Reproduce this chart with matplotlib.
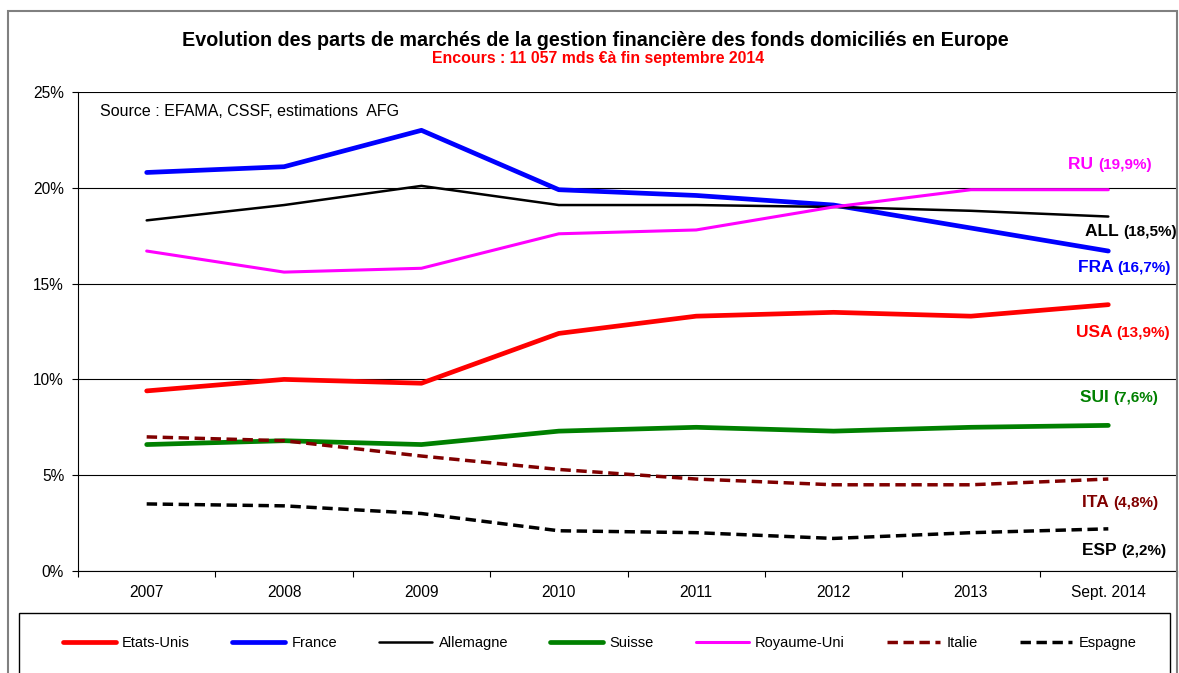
import matplotlib
matplotlib.use('Agg')
import matplotlib.pyplot as plt
from matplotlib.patches import Rectangle
from matplotlib.ticker import FixedLocator, PercentFormatter

plt.rcParams['font.family'] = ['Liberation Sans', 'DejaVu Sans']

# Data (parts de marché, %)
years = ['2007', '2008', '2009', '2010', '2011', '2012', '2013', 'Sept. 2014']
etats_unis = [9.4, 10.0, 9.8, 12.4, 13.3, 13.5, 13.3, 13.9]
france = [20.8, 21.1, 23.0, 19.9, 19.6, 19.1, 17.9, 16.7]
allemagne = [18.3, 19.1, 20.1, 19.1, 19.1, 19.0, 18.8, 18.5]
suisse = [6.6, 6.8, 6.6, 7.3, 7.5, 7.3, 7.5, 7.6]
royaume_uni = [16.7, 15.6, 15.8, 17.6, 17.8, 19.0, 19.9, 19.9]
italie = [7.0, 6.8, 6.0, 5.3, 4.8, 4.5, 4.5, 4.8]
espagne = [3.5, 3.4, 3.0, 2.1, 2.0, 1.7, 2.0, 2.2]

W, H = 1179, 673
fig = plt.figure(figsize=(W / 100, H / 100), dpi=100)
ax = fig.add_axes([78 / W, 1 - 571 / H, (1177 - 78) / W, (571 - 92) / H])

x = [i + 0.5 for i in range(len(years))]
dash = (0, (3, 1.6))
series = [
    ('Etats-Unis', etats_unis, '#FF0000', 3.4, '-'),
    ('France', france, '#0000FF', 3.4, '-'),
    ('Allemagne', allemagne, '#000000', 1.8, '-'),
    ('Suisse', suisse, '#008000', 3.4, '-'),
    ('Royaume-Uni', royaume_uni, '#FF00FF', 2.2, '-'),
    ('Italie', italie, '#800000', 2.5, dash),
    ('Espagne', espagne, '#000000', 2.5, dash),
]
handles = []
for name, vals, col, lw, ls in series:
    h, = ax.plot(x, vals, color=col, lw=lw, ls=ls, label=name,
                 solid_capstyle='round', clip_on=False)
    handles.append(h)

ax.set_xlim(0, len(years))
ax.set_ylim(0, 25)
ax.yaxis.set_major_locator(FixedLocator([0, 5, 10, 15, 20, 25]))
ax.yaxis.set_major_formatter(PercentFormatter(decimals=0))
ax.grid(axis='y', color='black', lw=0.8)
ax.set_axisbelow(True)

ax.set_xticks(range(len(years) + 1))
ax.set_xticklabels([])
ax.set_xticks(x, minor=True)
ax.set_xticklabels(years, minor=True)
ax.tick_params(axis='x', which='major', length=4, width=0.8, direction='out')
ax.tick_params(axis='x', which='minor', length=0, pad=10, labelsize=11.2)
ax.tick_params(axis='y', length=4, width=0.8, pad=6, labelsize=11.2)

for s in ['top', 'right']:
    ax.spines[s].set_visible(False)
for s in ['left', 'bottom']:
    ax.spines[s].set_linewidth(0.8)

# right-hand labels
labels = [
    ('RU', '(19,9%)', '#FF00FF', 7.818, 21.19),
    ('ALL', '(18,5%)', '#000000', 8.0, 17.69),
    ('FRA', '(16,7%)', '#0000FF', 7.956, 15.81),
    ('USA', '(13,9%)', '#FF0000', 7.949, 12.42),
    ('SUI', '(7,6%)', '#008000', 7.862, 9.03),
    ('ITA', '(4,8%)', '#800000', 7.862, 3.55),
    ('ESP', '(2,2%)', '#000000', 7.92, 1.04),
]
for short, val, col, lx, ly in labels:
    t = ax.text(lx, ly, val, color=col, fontsize=11, fontweight='bold',
                ha='right', va='center', clip_on=False)
    ax.annotate(short + ' ', xy=(0, 0), xycoords=t, color=col, fontsize=12.5,
                fontweight='bold', ha='right', va='bottom')

fig.text(0.505, 1 - 40 / H,
         'Evolution des parts de marchés de la gestion financière des fonds domiciliés en Europe',
         ha='center', va='center', fontsize=14.2, fontweight='bold')
fig.text(0.507, 1 - 58 / H, 'Encours : 11 057 mds €à fin septembre 2014',
         ha='center', va='center', fontsize=11.4, fontweight='bold', color='#FF0000')
fig.text(100 / W, 1 - 112 / H, 'Source : EFAMA, CSSF, estimations  AFG',
         ha='left', va='center', fontsize=11.5)

# frames
fig.add_artist(Rectangle((8 / W, -0.05), (1177 - 8) / W, 1 - 11 / H + 0.05,
                         transform=fig.transFigure, fill=False,
                         edgecolor='#808080', lw=1.5))
fig.add_artist(Rectangle((19 / W, -0.05), (1170 - 19) / W, 1 - 613 / H + 0.05,
                         transform=fig.transFigure, fill=False,
                         edgecolor='black', lw=1))

fig.legend(handles=handles, loc='center', ncol=7, mode='expand',
           bbox_to_anchor=(50 / W, 1 - 663 / H, (1150 - 50) / W, 40 / H),
           frameon=False, fontsize=10.5, handlelength=3.6, handletextpad=0.45)

fig.savefig('out.png', dpi=100)
